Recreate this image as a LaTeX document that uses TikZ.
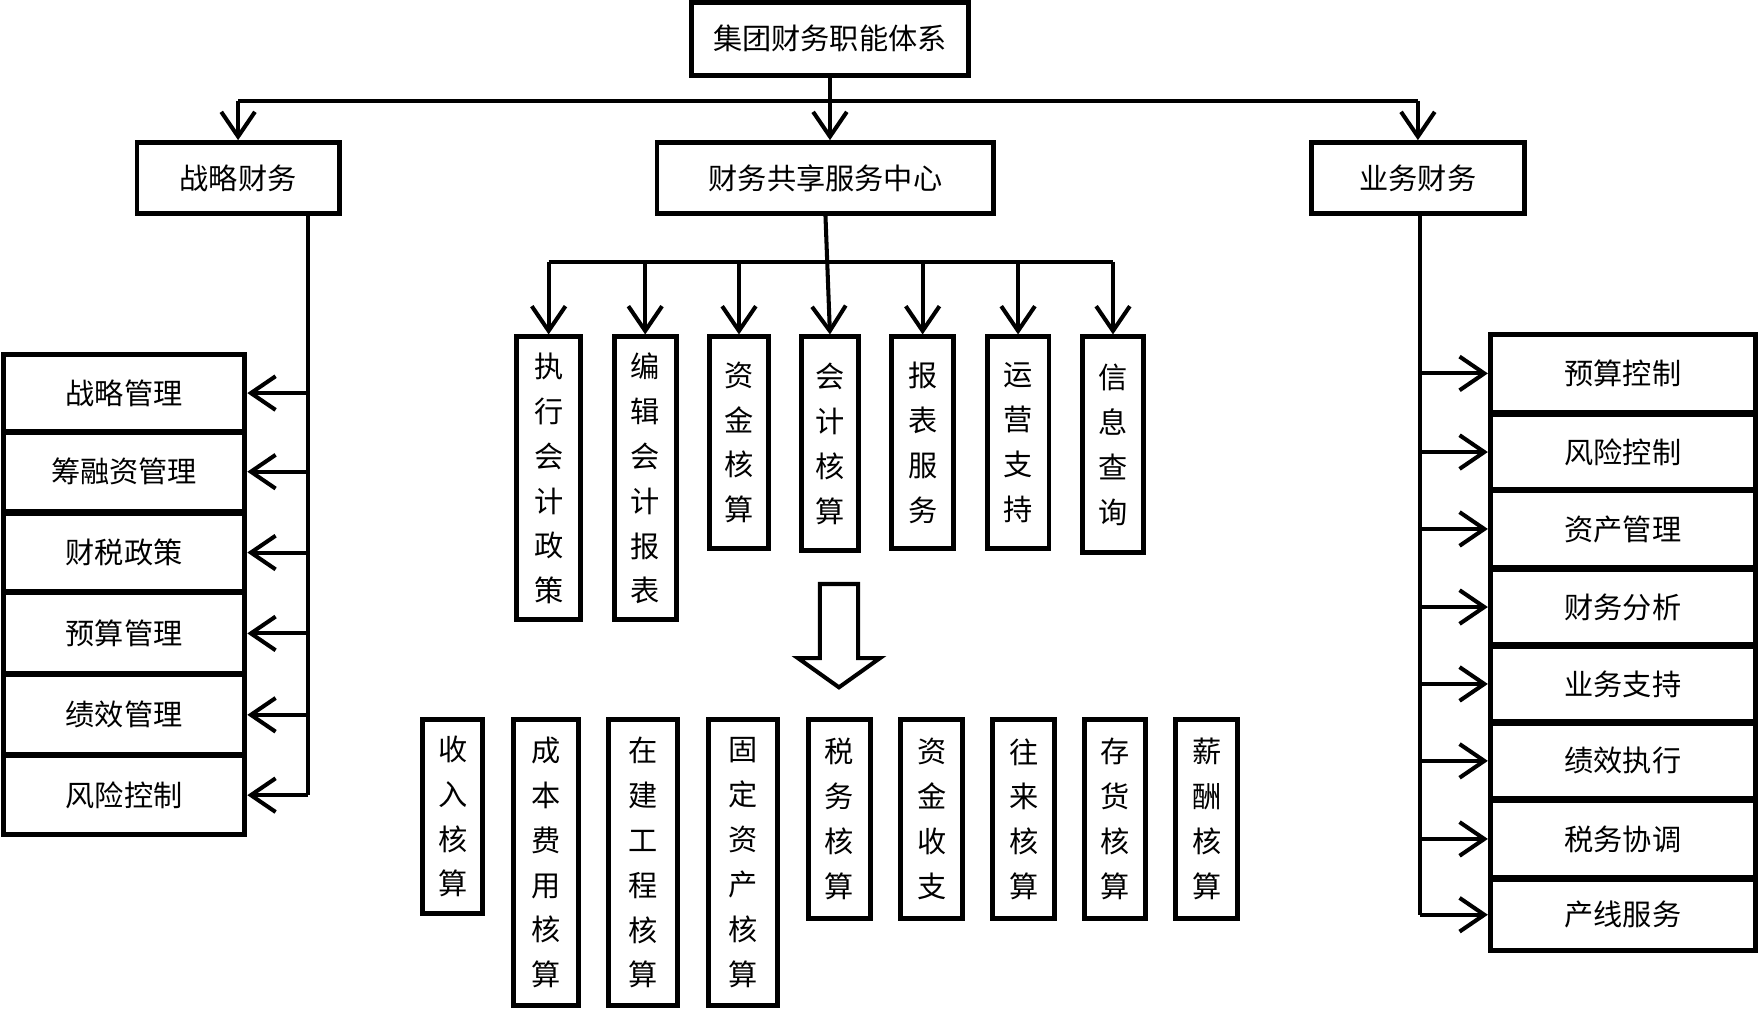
\documentclass[tikz,border=0pt]{standalone}
\usepackage{fontspec}
\setmainfont{Noto Sans CJK SC}
\usetikzlibrary{arrows.meta}

\tikzset{
    box/.style={draw, line width=2.2pt, inner sep=0pt, align=center,
                font=\fontsize{13}{20}\selectfont},
    ln/.style={line width=1.8pt},
    arr/.style={line width=1.8pt, -{Straight Barb[length=11pt,width=15pt]}},
}
% name, center x, center y, width, height, text
\newcommand{\bx}[6]{
    \node[box, minimum width=#4*0.5pt, minimum height=#5*0.5pt] (#1) at (#2,#3) {#6};
}

\begin{document}
\begin{tikzpicture}[x=0.5pt,y=-0.5pt]
    \useasboundingbox (0,0) rectangle (1568,898);

    \bx{top}{739}{34.5}{246}{65}{集团财务职能体系}
    \bx{zl}{212}{158.5}{180}{63}{战略财务}
    \bx{mid}{735}{158.5}{300}{63}{财务共享服务中心}
    \bx{yw}{1262.5}{158.5}{189}{63}{业务财务}

    % shared service center
    \bx{c1}{488.5}{426}{57}{252}{执\\行\\会\\计\\政\\策}
    \bx{c2}{574.5}{426}{55}{252}{编\\辑\\会\\计\\报\\表}
    \bx{c3}{658}{394}{52}{188}{资\\金\\核\\算}
    \bx{c4}{739}{395}{50}{190}{会\\计\\核\\算}
    \bx{c5}{821.5}{394}{55}{188}{报\\表\\服\\务}
    \bx{c6}{906.5}{394}{55}{188}{运\\营\\支\\持}
    \bx{c7}{991}{396}{54}{192}{信\\息\\查\\询}

    \bx{b1}{403}{727}{54}{172}{收\\入\\核\\算}
    \bx{b2}{486}{768}{58}{254}{成\\本\\费\\用\\核\\算}
    \bx{b3}{572.5}{768}{61}{254}{在\\建\\工\\程\\核\\算}
    \bx{b4}{661.5}{768}{61}{254}{固\\定\\资\\产\\核\\算}
    \bx{b5}{747.5}{729.5}{55}{177}{税\\务\\核\\算}
    \bx{b6}{829.5}{729.5}{55}{177}{资\\金\\收\\支}
    \bx{b7}{911.5}{729.5}{55}{177}{往\\来\\核\\算}
    \bx{b8}{993}{729.5}{54}{177}{存\\货\\核\\算}
    \bx{b9}{1074.5}{729.5}{55}{177}{薪\\酬\\核\\算}

    % strategy finance
    \bx{l1}{110.5}{350}{215}{68}{战略管理}
    \bx{l2}{110.5}{420}{215}{70}{筹融资管理}
    \bx{l3}{110.5}{492}{215}{70}{财税政策}
    \bx{l4}{110.5}{564}{215}{72}{预算管理}
    \bx{l5}{110.5}{636.5}{215}{71}{绩效管理}
    \bx{l6}{110.5}{708}{215}{70}{风险控制}

    % business finance
    \bx{r1}{1445}{332.5}{236}{69}{预算控制}
    \bx{r2}{1445}{402.5}{236}{67}{风险控制}
    \bx{r3}{1445}{471}{236}{68}{资产管理}
    \bx{r4}{1445}{540.5}{236}{67}{财务分析}
    \bx{r5}{1445}{609}{236}{66}{业务支持}
    \bx{r6}{1445}{677.5}{236}{67}{绩效执行}
    \bx{r7}{1445}{747}{236}{68}{税务协调}
    \bx{r8}{1445}{814.5}{236}{63}{产线服务}

    \coordinate (hy) at (0,90);
    \coordinate (cy) at (0,233);
    \coordinate (lx) at (274,0);
    \coordinate (rx) at (1264,0);

    \draw[ln] (zl.north |- hy) -- (yw.north |- hy);
    \draw[arr] (top.south) -- (top.south |- mid.north);
    \draw[arr] (zl.north |- hy) -- (zl.north);
    \draw[arr] (yw.north |- hy) -- (yw.north);

    \draw[ln] (c1.north |- cy) -- (c7.north |- cy);
    \draw[arr] (mid.south) -- (c4.north);
    \foreach \i in {1,2,3,5,6,7}
        \draw[arr] (c\i.north |- cy) -- (c\i.north);

    \draw[ln] (lx |- zl.south) -- (lx |- l6.east);
    \foreach \i in {1,...,6}
        \draw[arr] (lx |- l\i.east) -- (l\i.east);

    \draw[ln] (rx |- yw.south) -- (rx |- r8.west);
    \foreach \i in {1,...,8}
        \draw[arr] (rx |- r\i.west) -- (r\i.west);

    % hollow arrow
    \draw[line width=1.8pt] (730,520) -- (764,520) -- (764,586) -- (783.5,586)
        -- (747,612) -- (710.5,586) -- (730,586) -- cycle;
\end{tikzpicture}
\end{document}
